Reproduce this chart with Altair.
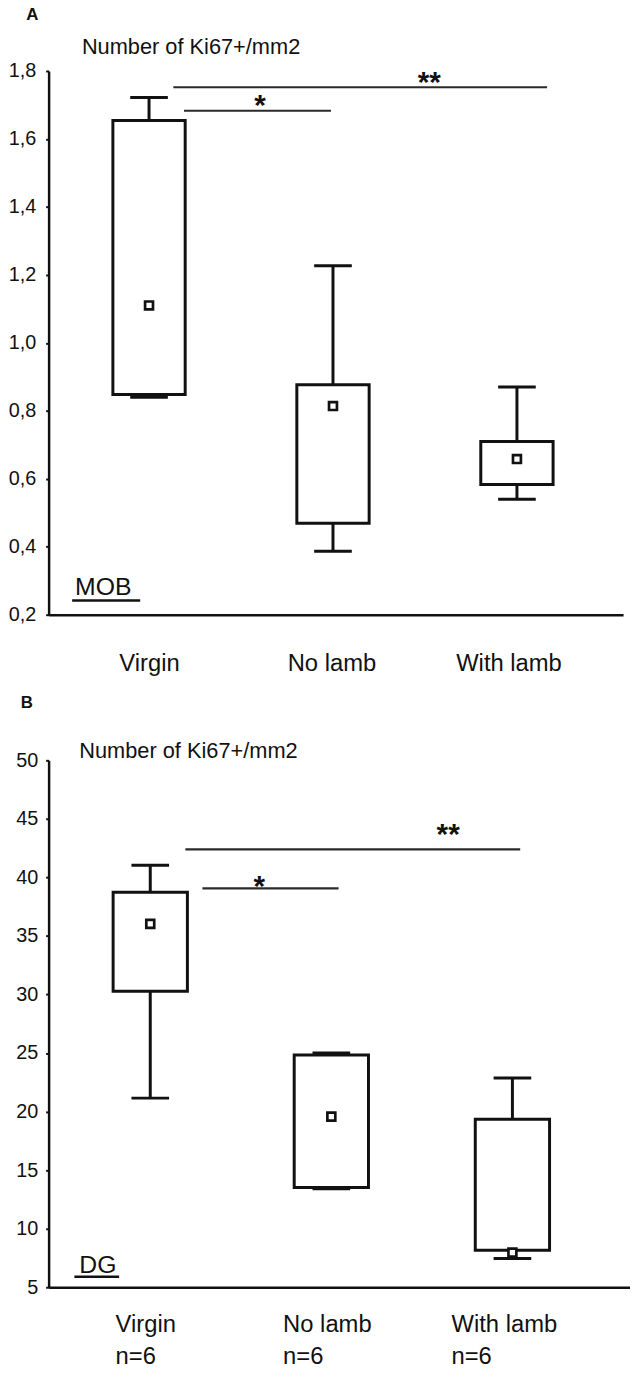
import altair as alt
import pandas as pd

FONT = "Liberation Sans"
INK = "#111111"

# ---- categories ----
groups = ["Virgin", "No lamb", "With lamb"]
group_n = ["n=6", "n=6", "n=6"]
group_pos = [0, 1, 2]
y_title = "Number of Ki67+/mm2"

# ---- Panel A : MOB (Ki67+/mm2) ----
mob_low = [0.840, 0.387, 0.540]
mob_q1 = [0.848, 0.469, 0.583]
mob_q3 = [1.654, 0.877, 0.710]
mob_high = [1.722, 1.227, 0.870]
mob_mean = [1.110, 0.814, 0.658]
mob_ticks = [0.2, 0.4, 0.6, 0.8, 1.0, 1.2, 1.4, 1.6, 1.8]

mob_sig_start = [0.190, 0.132]
mob_sig_end = [0.989, 2.164]
mob_sig_level = [1.683, 1.752]
mob_sig_text = ["*", "**"]
mob_sig_text_x = [0.603, 1.524]
mob_sig_text_y = [1.671, 1.739]

# ---- Panel B : DG (Ki67+/mm2) ----
dg_low = [21.15, 13.40, 7.45]
dg_q1 = [30.28, 13.51, 8.16]
dg_q3 = [38.73, 24.84, 19.34]
dg_high = [41.04, 25.00, 22.87]
dg_mean = [36.03, 19.57, 7.96]
dg_ticks = [5, 10, 15, 20, 25, 30, 35, 40, 45, 50]

dg_sig_start = [0.288, 0.194]
dg_sig_end = [1.040, 2.043]
dg_sig_level = [39.07, 42.39]
dg_sig_text = ["*", "**"]
dg_sig_text_x = [0.602, 1.645]
dg_sig_text_y = [38.44, 42.83]


def label_expr(positions, lines):
    expr = ""
    for p, l in zip(positions, lines):
        arr = "[" + ",".join("'%s'" % s for s in l) + "]"
        expr += "abs(datum.value - (%s)) < 0.01 ? %s : " % (p, arr)
    return expr + "''"


def panel(letter, letter_x, letter_y, region, low, q1, q3, high, mean, yticks, ylabel_expr,
          sig_start, sig_end, sig_level, sig_text, sig_text_x, sig_text_y,
          x_domain, y_domain, width, height, label_at, label_lines,
          label_padding, ylabel_padding, ytitle_x, ytitle_y,
          region_x, region_y, region_line_x, region_line_x2, region_line_y,
          box_size):
    df = pd.DataFrame({"pos": group_pos, "group": groups, "low": low, "q1": q1,
                       "q3": q3, "high": high, "mean": mean})
    xs = alt.Scale(domain=x_domain, nice=False, zero=False)
    ys = alt.Scale(domain=y_domain, nice=False, zero=False)
    x_axis = alt.Axis(values=label_at, labelExpr=label_expr(label_at, label_lines),
                      ticks=False, grid=False, domainColor=INK, domainWidth=2.5,
                      labelFont=FONT, labelFontSize=24, labelColor=INK,
                      labelAlign="left", labelBaseline="top", labelPadding=label_padding,
                      labelFlush=False, labelOverlap=False, labelBound=False,
                      labelLineHeight=32, title=None)
    y_axis = alt.Axis(values=yticks, labelExpr=ylabel_expr, grid=False,
                      domainColor=INK, domainWidth=2.5, tickColor=INK, tickWidth=2,
                      tickSize=3, labelFont=FONT, labelFontSize=20, labelColor=INK,
                      labelPadding=ylabel_padding, labelFlush=False, labelOverlap=False,
                      title=None)
    base = alt.Chart(df)
    x_enc = alt.X("pos:Q", scale=xs, axis=x_axis)
    whisk_hi = base.mark_rule(color=INK, strokeWidth=3).encode(
        x=x_enc, y=alt.Y("q3:Q", scale=ys, axis=y_axis), y2="high:Q")
    whisk_lo = base.mark_rule(color=INK, strokeWidth=3).encode(
        x=alt.X("pos:Q", scale=xs), y=alt.Y("low:Q", scale=ys), y2="q1:Q")
    cap_hi = base.mark_tick(orient="horizontal", color=INK, size=38, thickness=3,
                            opacity=1).encode(
        x=alt.X("pos:Q", scale=xs), y=alt.Y("high:Q", scale=ys))
    cap_lo = base.mark_tick(orient="horizontal", color=INK, size=38, thickness=3,
                            opacity=1).encode(
        x=alt.X("pos:Q", scale=xs), y=alt.Y("low:Q", scale=ys))
    boxes = base.mark_bar(size=box_size, fill="white", stroke=INK, strokeWidth=3).encode(
        x=alt.X("pos:Q", scale=xs), y=alt.Y("q1:Q", scale=ys), y2="q3:Q")
    means = base.mark_point(shape="square", filled=True, fill="white", stroke=INK,
                            strokeWidth=2.7, size=64, opacity=1).encode(
        x=alt.X("pos:Q", scale=xs), y=alt.Y("mean:Q", scale=ys))

    sig = pd.DataFrame({"x1": sig_start, "x2": sig_end, "y": sig_level,
                        "t": sig_text, "tx": sig_text_x, "ty": sig_text_y})
    sbase = alt.Chart(sig)
    sig_lines = sbase.mark_rule(color="#2a2a2a", strokeWidth=2.2).encode(
        x=alt.X("x1:Q", scale=xs), x2="x2:Q", y=alt.Y("y:Q", scale=ys))
    sig_stars = sbase.mark_text(font=FONT, fontSize=30, fontWeight="bold", color=INK,
                                align="center", baseline="alphabetic").encode(
        x=alt.X("tx:Q", scale=xs), y=alt.Y("ty:Q", scale=ys), text="t:N")

    reg = pd.DataFrame({"x": [region_x], "y": [region_y], "t": [region],
                        "lx": [region_line_x], "lx2": [region_line_x2], "ly": [region_line_y],
                        "px": [letter_x], "py": [letter_y], "p": [letter],
                        "tx": [ytitle_x], "ty": [ytitle_y], "tt": [y_title]})
    rbase = alt.Chart(reg)
    reg_text = rbase.mark_text(font=FONT, fontSize=25, color=INK, align="left",
                               baseline="alphabetic").encode(
        x=alt.X("x:Q", scale=xs), y=alt.Y("y:Q", scale=ys), text="t:N")
    reg_line = rbase.mark_rule(color=INK, strokeWidth=2.5).encode(
        x=alt.X("lx:Q", scale=xs), x2="lx2:Q", y=alt.Y("ly:Q", scale=ys))
    letter_text = rbase.mark_text(font=FONT, fontSize=17, fontWeight="bold", color=INK,
                                  align="left", baseline="top").encode(
        x=alt.X("px:Q", scale=xs), y=alt.Y("py:Q", scale=ys), text="p:N")
    ytitle_text = rbase.mark_text(font=FONT, fontSize=22, color=INK, align="left",
                                  baseline="alphabetic").encode(
        x=alt.X("tx:Q", scale=xs), y=alt.Y("ty:Q", scale=ys), text="tt:N")

    return alt.layer(whisk_hi, whisk_lo, cap_hi, cap_lo, boxes, means,
                     sig_lines, sig_stars, reg_text, reg_line, letter_text,
                     ytitle_text).properties(width=width, height=height)


chart_a = panel(
    "A", -0.667, 1.9866, "MOB", mob_low, mob_q1, mob_q3, mob_high, mob_mean, mob_ticks,
    "replace(format(datum.value, '.1f'), '.', ',')",
    mob_sig_start, mob_sig_end, mob_sig_level, mob_sig_text, mob_sig_text_x, mob_sig_text_y,
    x_domain=[-0.519, 2.550], y_domain=[0.2, 1.8], width=580, height=549,
    label_at=[-0.164, 0.751, 1.667], label_lines=[[g] for g in groups],
    label_padding=37, ylabel_padding=10, ytitle_x=-0.365, ytitle_y=1.850,
    region_x=-0.402, region_y=0.257, region_line_x=-0.418,
    region_line_x2=-0.048, region_line_y=0.242, box_size=73)

chart_b = panel(
    "B", -0.715, 55.58, "DG", dg_low, dg_q1, dg_q3, dg_high, dg_mean, dg_ticks,
    "format(datum.value, 'd')",
    dg_sig_start, dg_sig_end, dg_sig_level, dg_sig_text, dg_sig_text_x, dg_sig_text_y,
    x_domain=[-0.534, 2.622], y_domain=[5, 50], width=587, height=532,
    label_at=[-0.194, 0.731, 1.661], label_lines=[[g, n] for g, n in zip(groups, group_n)],
    label_padding=26, ylabel_padding=8, ytitle_x=-0.392, ytitle_y=50.17,
    region_x=-0.392, region_y=6.19, region_line_x=-0.419,
    region_line_x2=-0.172, region_line_y=5.9, box_size=75)

chart = alt.vconcat(chart_a, chart_b, spacing=19).properties(
    padding={"left": 0, "top": -9, "right": 0, "bottom": -4},
    background="white",
).configure_view(stroke=None)

chart.save("out.html", embed_options={"renderer": "svg", "actions": False})
